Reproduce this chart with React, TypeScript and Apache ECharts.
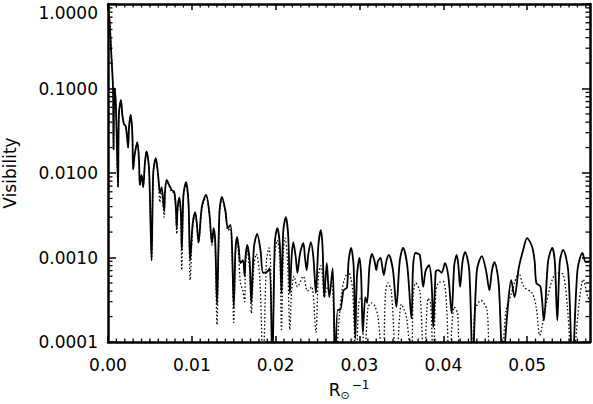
import React, { useEffect, useRef } from 'react';
import * as echarts from 'echarts';

const X_MIN = 0;
const X_MAX = 0.0575;
const Y_MIN = 0.0001;
const Y_MAX = 1;
const FONT = 'DejaVu Sans';

// Part shared by both curves (they overlap near the origin): [R_sun^-1, visibility]
const commonStart: number[][] = [
  [0, 1.0], [0.0002, 0.6], [0.0004, 0.25], [0.0006, 0.1], [0.00066, 0.019], [0.00072, 0.07],
  [0.0008, 0.1], [0.00095, 0.06], [0.0012, 0.0068], [0.0013, 0.05], [0.00155, 0.073],
  [0.0017, 0.05], [0.0019, 0.038], [0.0021, 0.036], [0.00225, 0.028], [0.0024, 0.02],
  [0.0025, 0.034], [0.0027, 0.0486], [0.0029, 0.03], [0.003, 0.011], [0.0032, 0.017],
  [0.0035, 0.023], [0.0037, 0.014], [0.0038, 0.0072], [0.004, 0.0095], [0.0042, 0.0068],
  [0.0044, 0.013], [0.0046, 0.018], [0.0049, 0.011], [0.0052, 0.00093], [0.0054, 0.01],
  [0.0057, 0.015],
];

// Solid curve after the shared part
const solidTail: number[][] = [
  [0.006, 0.009], [0.0062, 0.0058], [0.0064, 0.0068], [0.0067, 0.0035], [0.0068, 0.006],
  [0.007, 0.0083], [0.0073, 0.0072], [0.0076, 0.0063], [0.0079, 0.006], [0.0081, 0.0038],
  [0.0082, 0.0022], [0.0083, 0.0038], [0.0085, 0.0051], [0.0087, 0.0033], [0.0088, 0.00123],
  [0.009, 0.0055], [0.0093, 0.0078], [0.0096, 0.0045], [0.0098, 0.00093], [0.0101, 0.0025],
  [0.0104, 0.00345], [0.0106, 0.0025], [0.0108, 0.0015], [0.0112, 0.004], [0.0117, 0.0055],
  [0.0121, 0.0033], [0.0124, 0.00148], [0.0126, 0.00223], [0.0128, 0.0015], [0.013, 0.00028],
  [0.0133, 0.0035], [0.0136, 0.0052], [0.014, 0.0036], [0.0143, 0.00223], [0.0146, 0.00243],
  [0.0148, 0.0013], [0.015, 0.00026], [0.0152, 0.0012], [0.0154, 0.00175], [0.0156, 0.0013],
  [0.0158, 0.00086], [0.0161, 0.00093], [0.0163, 0.0006], [0.0164, 0.001], [0.0166, 0.00141],
  [0.0169, 0.0009], [0.0171, 0.00029], [0.0174, 0.0013], [0.0178, 0.0019], [0.0182, 0.0012],
  [0.0185, 0.00066], [0.019, 0.00068], [0.0193, 0.00075], [0.0196, 0.00005], [0.0199, 0.0015],
  [0.0202, 0.00223], [0.0205, 0.0014], [0.0207, 0.00038], [0.0209, 0.002], [0.0212, 0.003],
  [0.0215, 0.0018], [0.0217, 0.00038], [0.0219, 0.001], [0.0221, 0.00152], [0.0224, 0.001],
  [0.0226, 0.00066], [0.0229, 0.0011], [0.0233, 0.00148], [0.0235, 0.001], [0.0237, 0.00071],
  [0.0239, 0.0011], [0.0242, 0.00152], [0.0245, 0.001], [0.0248, 0.00038], [0.0251, 0.0014],
  [0.0254, 0.00211], [0.0256, 0.0013], [0.0258, 0.00034], [0.0261, 0.00086], [0.0264, 0.00034],
  [0.0268, 0.00075], [0.0271, 0.00005], [0.0274, 0.00024], [0.0277, 0.00024], [0.0281, 0.00041],
  [0.0285, 0.00044], [0.0287, 0.0009], [0.029, 0.0013], [0.0293, 0.0008], [0.0295, 0.00011],
  [0.0297, 0.0006], [0.03, 0.00099], [0.0302, 0.0006], [0.0304, 0.00013], [0.0307, 0.00034],
  [0.0309, 0.00029], [0.0312, 0.0008], [0.0315, 0.0011], [0.0318, 0.0009], [0.032, 0.00071],
  [0.0322, 0.0009], [0.0325, 0.00099], [0.0327, 0.0008], [0.0329, 0.00062], [0.0332, 0.0009],
  [0.0335, 0.00107], [0.034, 0.0007], [0.0344, 0.00026], [0.0348, 0.0009], [0.0352, 0.0013],
  [0.0357, 0.0008], [0.0362, 0.00019], [0.0364, 0.0008], [0.0367, 0.00113], [0.0372, 0.00107],
  [0.0376, 0.00045], [0.0379, 0.0007], [0.0383, 0.00081], [0.0386, 0.0005], [0.0388, 0.00015],
  [0.0391, 0.00068], [0.0394, 0.00071], [0.0398, 0.00066], [0.0402, 0.00086], [0.0406, 0.0006],
  [0.041, 0.00022], [0.0413, 0.0008], [0.0416, 0.00107], [0.0418, 0.0008], [0.042, 0.00045],
  [0.0423, 0.0009], [0.0426, 0.00116], [0.0431, 0.0007], [0.0435, 0.00005], [0.044, 0.0007],
  [0.0446, 0.00104], [0.0451, 0.0007], [0.0455, 0.00041], [0.0458, 0.0007], [0.0461, 0.00088],
  [0.0466, 0.0005], [0.0471, 0.00005], [0.0476, 0.0002], [0.0481, 0.00054], [0.0485, 0.00034],
  [0.049, 0.00075], [0.0495, 0.0012], [0.05, 0.0017], [0.0506, 0.00133], [0.0509, 0.0009],
  [0.0511, 0.0005], [0.0516, 0.00045], [0.052, 0.00018], [0.0525, 0.0009], [0.053, 0.0013],
  [0.0533, 0.0009], [0.0536, 0.00018], [0.0539, 0.0009], [0.0543, 0.00123], [0.0549, 0.0007],
  [0.0554, 0.00005], [0.056, 0.0007], [0.0566, 0.00113], [0.057, 0.00088], [0.0575, 0.0009],
];

// Dotted curve after the shared part
const dottedTail: number[][] = [
  [0.006, 0.0085], [0.0062, 0.0045], [0.0064, 0.0062], [0.0067, 0.003], [0.0068, 0.0058],
  [0.007, 0.0082], [0.0073, 0.007], [0.0076, 0.006], [0.0079, 0.0058], [0.0081, 0.0035],
  [0.0082, 0.0019], [0.0083, 0.0036], [0.0085, 0.005], [0.0087, 0.003], [0.0088, 0.00071],
  [0.009, 0.0052], [0.0093, 0.0076], [0.0096, 0.0043], [0.0098, 0.00054], [0.0101, 0.0023],
  [0.0104, 0.0033], [0.0106, 0.0024], [0.0108, 0.0015], [0.0112, 0.0038], [0.0117, 0.0052],
  [0.0121, 0.0031], [0.0124, 0.0014], [0.0126, 0.0021], [0.0128, 0.0013], [0.013, 0.00016],
  [0.0133, 0.0033], [0.0136, 0.005], [0.014, 0.0034], [0.0143, 0.0021], [0.0146, 0.0022],
  [0.0148, 0.0011], [0.015, 0.00017], [0.0152, 0.0011], [0.0154, 0.0016], [0.0156, 0.001],
  [0.0158, 0.0005], [0.0161, 0.0004], [0.0163, 0.0003], [0.0164, 0.0008], [0.0166, 0.0012],
  [0.0169, 0.0007], [0.0171, 0.00022], [0.0174, 0.0008], [0.0177, 0.0011], [0.0181, 0.0006],
  [0.0185, 0.00005], [0.0189, 0.0009], [0.0192, 0.0013], [0.0194, 0.0008], [0.0196, 0.00005],
  [0.0199, 0.0011], [0.0202, 0.0016], [0.0205, 0.001], [0.0207, 0.00014], [0.0209, 0.0011],
  [0.0211, 0.0017], [0.0214, 0.001], [0.0217, 0.00014], [0.0219, 0.0004], [0.0222, 0.0006],
  [0.0226, 0.00045], [0.0233, 0.0006], [0.0238, 0.0004], [0.0243, 0.00045], [0.0248, 0.00013],
  [0.0251, 0.0006], [0.0254, 0.0008], [0.0256, 0.0006], [0.0258, 0.00034], [0.0262, 0.00045],
  [0.0267, 0.0005], [0.0271, 0.00005], [0.0276, 0.0002], [0.0279, 0.0004], [0.0282, 0.00055],
  [0.0287, 0.00068], [0.029, 0.00055], [0.0292, 0.0004], [0.0296, 0.00005], [0.0299, 0.00028],
  [0.0302, 0.00035], [0.0306, 0.00005], [0.031, 0.00025], [0.0314, 0.00029], [0.0318, 0.00027],
  [0.0322, 0.0002], [0.0328, 0.00005], [0.0331, 0.00038], [0.0334, 0.0005], [0.0338, 0.0004],
  [0.0344, 0.00005], [0.035, 0.00028], [0.0356, 0.0002], [0.0362, 0.00005], [0.0364, 0.00035],
  [0.0367, 0.0005], [0.0372, 0.0004], [0.0377, 0.00005], [0.0382, 0.00033], [0.0385, 0.00028],
  [0.0388, 0.00005], [0.0391, 0.00038], [0.0394, 0.0005], [0.04, 0.00052], [0.0404, 0.00026],
  [0.0407, 0.00005], [0.0413, 0.00026], [0.0417, 0.00022], [0.0421, 0.00005], [0.0432, 0.00005],
  [0.0438, 0.00024], [0.0445, 0.00031], [0.0452, 0.00024], [0.0457, 0.00005], [0.0467, 0.00005],
  [0.0475, 0.00024], [0.0481, 0.00037], [0.0485, 0.0005], [0.049, 0.00066], [0.0496, 0.00045],
  [0.0506, 0.00038], [0.0511, 0.00025], [0.0515, 0.00012], [0.0522, 0.00026], [0.053, 0.00055],
  [0.0536, 0.00066], [0.0543, 0.00063], [0.0548, 0.00026], [0.0554, 0.00005], [0.0562, 0.00029],
  [0.0567, 0.00055], [0.0572, 0.00035], [0.0575, 0.0003],
];

const solidCurve = [...commonStart, ...solidTail];
const dottedCurve = [...commonStart, ...dottedTail];

// Minor tick positions
const xMinorTicks: number[] = [];
for (let i = 1; i <= 57; i++) if (i % 10 !== 0) xMinorTicks.push(i / 1000);
const yMinorTicks: number[] = [];
[0.0001, 0.001, 0.01, 0.1].forEach((d) => {
  for (let m = 2; m <= 9; m++) yMinorTicks.push(+(m * d).toPrecision(3));
});

const axisLineStyle = { color: '#000', width: 2.5 };

export default function App() {
  const ref = useRef<HTMLDivElement>(null);
  useEffect(() => {
    const chart = echarts.init(ref.current!, null, { renderer: 'svg' });
    const baseX = {
      type: 'value',
      min: X_MIN,
      max: X_MAX,
      interval: 0.01,
      splitLine: { show: false },
      axisLine: { show: true, onZero: false, lineStyle: axisLineStyle },
      axisTick: { show: true, inside: true, length: 6, lineStyle: { color: '#000', width: 1.5 } },
    };
    const baseY = {
      type: 'log',
      logBase: 10,
      min: Y_MIN,
      max: Y_MAX,
      splitLine: { show: false },
      axisLine: { show: true, onZero: false, lineStyle: axisLineStyle },
      axisTick: { show: true, inside: true, length: 8, lineStyle: { color: '#000', width: 1.5 } },
    };
    chart.setOption({
      animation: false,
      backgroundColor: '#fff',
      grid: { left: 108, right: 3, top: 4, bottom: 62, containLabel: false, outerBoundsMode: 'none' },
      xAxis: [
        {
          ...baseX,
          position: 'bottom',
          axisLabel: {
            color: '#000',
            fontFamily: FONT,
            fontSize: 17,
            margin: 14,
            showMaxLabel: false,
            formatter: (v: number) => v.toFixed(2),
          },
          name: '{r|R}{s|⊙}{p|−1}',
          nameLocation: 'middle',
          nameGap: 37,
          nameTextStyle: {
            rich: {
              r: { fontFamily: FONT, fontSize: 17, color: '#000', verticalAlign: 'middle', lineHeight: 22 },
              s: { fontFamily: FONT, fontSize: 11, color: '#000', verticalAlign: 'bottom', padding: [9, 0, 0, 0] },
              p: { fontFamily: FONT, fontSize: 12, color: '#000', verticalAlign: 'top', padding: [0, 0, 9, 2] },
            },
          },
        },
        { ...baseX, position: 'top', axisLabel: { show: false } },
      ],
      yAxis: [
        {
          ...baseY,
          position: 'left',
          axisLabel: {
            color: '#000',
            fontFamily: FONT,
            fontSize: 17,
            margin: 10,
            verticalAlignMaxLabel: 'top',
            formatter: (v: number) => v.toFixed(4),
          },
          name: 'Visibility',
          nameLocation: 'middle',
          nameGap: 90,
          nameTextStyle: { color: '#000', fontFamily: FONT, fontSize: 17 },
        },
        { ...baseY, position: 'right', axisLabel: { show: false } },
      ],
      series: [
        {
          type: 'line',
          xAxisIndex: 0,
          yAxisIndex: 0,
          data: dottedCurve,
          showSymbol: false,
          symbol: 'none',
          smooth: 0.3,
          lineStyle: { color: '#000', width: 1.3, type: [1.5, 2.2] },
          z: 2,
        },
        {
          type: 'line',
          xAxisIndex: 0,
          yAxisIndex: 0,
          data: solidCurve,
          showSymbol: false,
          symbol: 'none',
          smooth: 0.3,
          lineStyle: { color: '#000', width: 1.8 },
          z: 3,
        },
        {
          type: 'custom',
          xAxisIndex: 0,
          yAxisIndex: 0,
          silent: true,
          clip: false,
          z: 10,
          data: xMinorTicks.map((v) => [v, Y_MIN]),
          renderItem: (params: any, api: any) => {
            const v = api.value(0);
            const b = api.coord([v, Y_MIN]);
            const t = api.coord([v, Y_MAX]);
            const st = { stroke: '#000', lineWidth: 1.3 };
            return {
              type: 'group',
              children: [
                { type: 'line', shape: { x1: b[0], y1: b[1], x2: b[0], y2: b[1] - 3.5 }, style: st },
                { type: 'line', shape: { x1: t[0], y1: t[1], x2: t[0], y2: t[1] + 3.5 }, style: st },
              ],
            };
          },
        },
        {
          type: 'custom',
          xAxisIndex: 0,
          yAxisIndex: 0,
          silent: true,
          clip: false,
          z: 10,
          data: yMinorTicks.map((v) => [X_MIN, v]),
          renderItem: (params: any, api: any) => {
            const v = api.value(1);
            const l = api.coord([X_MIN, v]);
            const r = api.coord([X_MAX, v]);
            const st = { stroke: '#000', lineWidth: 1.3 };
            return {
              type: 'group',
              children: [
                { type: 'line', shape: { x1: l[0], y1: l[1], x2: l[0] + 4.5, y2: l[1] }, style: st },
                { type: 'line', shape: { x1: r[0], y1: r[1], x2: r[0] - 4.5, y2: r[1] }, style: st },
              ],
            };
          },
        },
      ],
    });
    return () => chart.dispose();
  }, []);
  return (
    <div
      ref={ref}
      style={{ position: 'fixed', left: 0, top: 0, width: 593, height: 404, background: '#fff' }}
    />
  );
}
